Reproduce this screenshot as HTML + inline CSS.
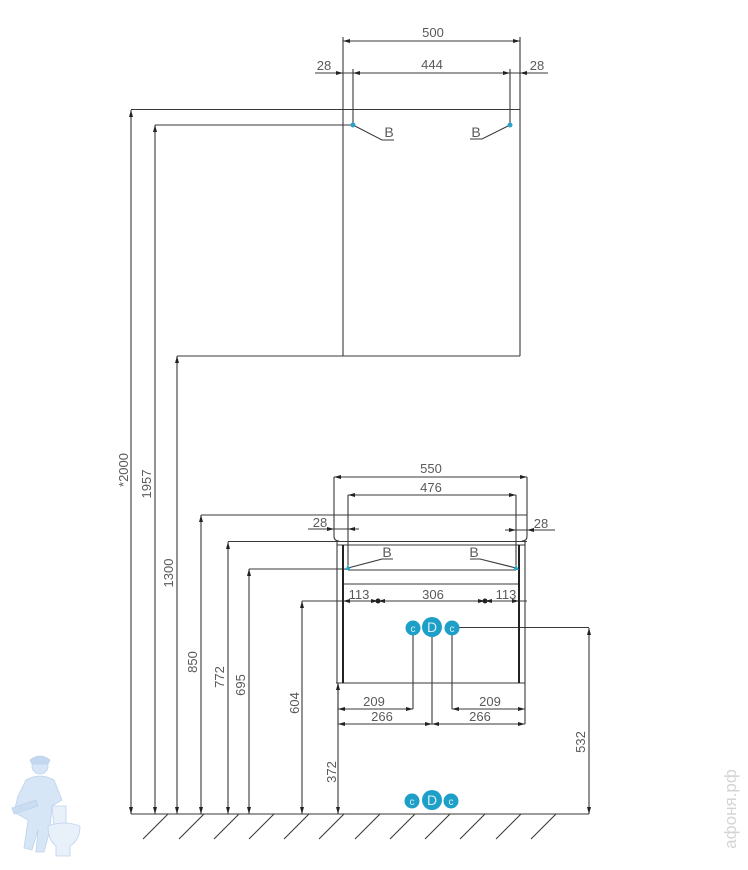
<!DOCTYPE html>
<html>
<head>
<meta charset="utf-8">
<style>
html,body{margin:0;padding:0;background:#fff;}
svg{display:block;}
text{font-family:"Liberation Sans",sans-serif;fill:#5a5a5a;font-size:13px;}
</style>
</head>
<body>
<svg width="748" height="870" viewBox="0 0 748 870" xmlns="http://www.w3.org/2000/svg">
<g stroke="#3a3a3a" stroke-width="1.1" fill="none">
  <!-- mirror -->
  <line x1="343" y1="37" x2="343" y2="356"/>
  <line x1="520" y1="37" x2="520" y2="356"/>
  <line x1="131" y1="109.5" x2="520" y2="109.5"/>
  <line x1="177" y1="356" x2="520" y2="356"/>
  <line x1="155" y1="125" x2="353" y2="125"/>
  <line x1="353" y1="69" x2="353" y2="125"/>
  <line x1="510" y1="69" x2="510" y2="125"/>
  <!-- 500 / 444 dims -->
  <line x1="343" y1="41" x2="520" y2="41"/>
  <line x1="315" y1="73" x2="548" y2="73"/>
  <!-- B labels mirror -->
  <polyline points="353,125 382,140 394,140"/>
  <polyline points="510,125 482,139 470,139"/>

  <!-- vertical dims -->
  <line x1="131" y1="110" x2="131" y2="814"/>
  <line x1="155" y1="125" x2="155" y2="814"/>
  <line x1="177" y1="356" x2="177" y2="814"/>
  <line x1="201" y1="515" x2="201" y2="814"/>
  <line x1="228" y1="542" x2="228" y2="814"/>
  <line x1="249" y1="569" x2="249" y2="814"/>
  <line x1="302" y1="601" x2="302" y2="814"/>
  <line x1="338" y1="683" x2="338" y2="814"/>
  <line x1="589" y1="628" x2="589" y2="814"/>

  <!-- floor -->
  <line x1="131" y1="814" x2="589" y2="814"/>
  <line x1="168" y1="814" x2="143" y2="839"/>
  <line x1="204" y1="814" x2="179" y2="839"/>
  <line x1="239" y1="814" x2="214" y2="839"/>
  <line x1="274" y1="814" x2="249" y2="839"/>
  <line x1="309" y1="814" x2="284" y2="839"/>
  <line x1="344" y1="814" x2="319" y2="839"/>
  <line x1="380" y1="814" x2="355" y2="839"/>
  <line x1="415" y1="814" x2="390" y2="839"/>
  <line x1="450" y1="814" x2="425" y2="839"/>
  <line x1="485" y1="814" x2="460" y2="839"/>
  <line x1="521" y1="814" x2="496" y2="839"/>
  <line x1="556" y1="814" x2="531" y2="839"/>

  <!-- sink / cabinet -->
  <line x1="334" y1="477" x2="527" y2="477"/>
  <line x1="348" y1="495" x2="516" y2="495"/>
  <line x1="334" y1="477" x2="334" y2="515"/>
  <line x1="527" y1="477" x2="527" y2="515"/>
  <line x1="348" y1="495" x2="348" y2="569"/>
  <line x1="516" y1="495" x2="516" y2="569"/>
  <line x1="201" y1="515" x2="527" y2="515"/>
  <path d="M334,515 L334,536 Q334,541 339,541"/>
  <path d="M527,515 L527,536 Q527,541 522,541"/>
  <line x1="228" y1="541.5" x2="527" y2="541.5"/>
  <line x1="337" y1="545" x2="525" y2="545"/>
  <line x1="337" y1="541" x2="337" y2="683"/>
  <line x1="525" y1="541" x2="525" y2="724"/>
  <line x1="249" y1="569" x2="348" y2="569"/>
  <line x1="348" y1="570" x2="516" y2="570"/>
  <line x1="343" y1="584" x2="519" y2="584"/>
  <line x1="336" y1="683" x2="525" y2="683"/>
  <line x1="302" y1="601" x2="527" y2="601"/>
  <!-- 28 cabinet -->
  <line x1="308" y1="529" x2="359" y2="529"/>
  <line x1="505" y1="530" x2="555" y2="530"/>
  <!-- B cabinet -->
  <polyline points="348,568 382,559 393,559"/>
  <polyline points="516,568 480,559 470,559"/>
  <!-- CDC lines -->
  <line x1="452" y1="627.5" x2="589" y2="627.5"/>
  <line x1="413" y1="628" x2="413" y2="709"/>
  <line x1="432" y1="628" x2="432" y2="724"/>
  <line x1="452" y1="628" x2="452" y2="709"/>
  <line x1="338" y1="709" x2="413" y2="709"/>
  <line x1="338" y1="724" x2="432" y2="724"/>
  <line x1="452" y1="709" x2="525" y2="709"/>
  <line x1="432" y1="724" x2="525" y2="724"/>
  <line x1="338" y1="683" x2="338" y2="724"/>
</g>
<!-- thick cabinet front lines -->
<g stroke="#222" stroke-width="2" fill="none">
  <line x1="343" y1="545" x2="343" y2="683"/>
  <line x1="519" y1="545" x2="519" y2="683"/>
</g>

<!-- arrows -->
<g fill="#222" stroke="none">
  <polygon points="131,110 129,117 133,117"/>
  <polygon points="155,125 153,132 157,132"/>
  <polygon points="177,356 175,363 179,363"/>
  <polygon points="201,515 199,522 203,522"/>
  <polygon points="228,542 226,549 230,549"/>
  <polygon points="249,569 247,576 251,576"/>
  <polygon points="302,601 300,608 304,608"/>
  <polygon points="338,683 336,690 340,690"/>
  <polygon points="589,628 587,635 591,635"/>
  <polygon points="131,814 129,807 133,807"/>
  <polygon points="155,814 153,807 157,807"/>
  <polygon points="177,814 175,807 179,807"/>
  <polygon points="201,814 199,807 203,807"/>
  <polygon points="228,814 226,807 230,807"/>
  <polygon points="249,814 247,807 251,807"/>
  <polygon points="302,814 300,807 304,807"/>
  <polygon points="338,814 336,807 340,807"/>
  <polygon points="589,814 587,807 591,807"/>
  <polygon points="343,41 350,39 350,43"/>
  <polygon points="520,41 513,39 513,43"/>
  <polygon points="343,73 336,71 336,75"/>
  <polygon points="353,73 360,71 360,75"/>
  <polygon points="510,73 503,71 503,75"/>
  <polygon points="520,73 527,71 527,75"/>
  <polygon points="334,477 341,475 341,479"/>
  <polygon points="527,477 520,475 520,479"/>
  <polygon points="348,495 355,493 355,497"/>
  <polygon points="516,495 509,493 509,497"/>
  <polygon points="334,529 327,527 327,531"/>
  <polygon points="348,529 355,527 355,531"/>
  <polygon points="516,530 509,528 509,532"/>
  <polygon points="527,530 534,528 534,532"/>
  <polygon points="343,601 350,599 350,603"/>
  <polygon points="519,601 512,599 512,603"/>
  <polygon points="378,601 371,599 371,603"/>
  <polygon points="378,601 385,599 385,603"/>
  <polygon points="485,601 478,599 478,603"/>
  <polygon points="485,601 492,599 492,603"/>
  <circle cx="378" cy="601" r="2.5"/>
  <circle cx="485" cy="601" r="2.5"/>
  <polygon points="338,709 345,707 345,711"/>
  <polygon points="413,709 406,707 406,711"/>
  <polygon points="338,724 345,722 345,726"/>
  <polygon points="432,724 425,722 425,726"/>
  <polygon points="452,709 459,707 459,711"/>
  <polygon points="525,709 518,707 518,711"/>
  <polygon points="432,724 439,722 439,726"/>
  <polygon points="525,724 518,722 518,726"/>
</g>

<!-- blue dots -->
<g fill="#2aa3c9">
  <circle cx="353" cy="125" r="2.5"/>
  <circle cx="510" cy="125" r="2.5"/>
  <polygon points="348,565 345,570 351,570"/>
  <polygon points="516,565 513,570 519,570"/>
</g>

<!-- CDC circles -->
<g fill="#1d9fc8">
  <circle cx="413" cy="628" r="7.5"/>
  <circle cx="432" cy="627" r="10"/>
  <circle cx="452" cy="628" r="7.5"/>
  <circle cx="412" cy="801" r="7.5"/>
  <circle cx="432" cy="800" r="10"/>
  <circle cx="451" cy="801" r="7.5"/>
</g>
<g text-anchor="middle">
  <text x="413" y="632" style="fill:#d9f0f8;font-size:10px">c</text>
  <text x="432" y="632" style="fill:#d9f0f8;font-size:14px">D</text>
  <text x="452" y="632" style="fill:#d9f0f8;font-size:10px">c</text>
  <text x="412" y="805" style="fill:#d9f0f8;font-size:10px">c</text>
  <text x="432" y="805" style="fill:#d9f0f8;font-size:14px">D</text>
  <text x="451" y="805" style="fill:#d9f0f8;font-size:10px">c</text>
</g>

<!-- labels -->
<g text-anchor="middle">
  <text x="433" y="37">500</text>
  <text x="432" y="69">444</text>
  <text x="324" y="70">28</text>
  <text x="537" y="70">28</text>
  <text x="389" y="137" style="font-size:14px">B</text>
  <text x="476" y="137" style="font-size:14px">B</text>
  <text x="431" y="473">550</text>
  <text x="431" y="492">476</text>
  <text x="320" y="527">28</text>
  <text x="541" y="528">28</text>
  <text x="387" y="557" style="font-size:14px">B</text>
  <text x="474" y="557" style="font-size:14px">B</text>
  <text x="359" y="599">113</text>
  <text x="433" y="599">306</text>
  <text x="506" y="599">113</text>
  <text x="374" y="706">209</text>
  <text x="382" y="721">266</text>
  <text x="490" y="706">209</text>
  <text x="480" y="721">266</text>
</g>
<g text-anchor="middle">
  <text transform="translate(128,470) rotate(-90)">*2000</text>
  <text transform="translate(151,484) rotate(-90)">1957</text>
  <text transform="translate(173,573) rotate(-90)">1300</text>
  <text transform="translate(197,662) rotate(-90)">850</text>
  <text transform="translate(224,677) rotate(-90)">772</text>
  <text transform="translate(245,685) rotate(-90)">695</text>
  <text transform="translate(299,703) rotate(-90)">604</text>
  <text transform="translate(336,772) rotate(-90)">372</text>
  <text transform="translate(585,742) rotate(-90)">532</text>
</g>

<!-- watermark figure -->
<g fill="#d6e6f6" stroke="#bcd3ec" stroke-width="0.8">
  <circle cx="40" cy="766" r="8"/>
  <path d="M30,760 Q40,752 50,760 L48,764 L32,764 Z" fill="#c3d8ef"/>
  <path d="M26,780 Q40,772 54,780 L62,800 L52,806 L50,830 L44,852 L36,852 L38,830 L32,850 L24,848 L28,820 L14,812 L18,796 Z"/>
  <path d="M12,808 L36,800 L38,806 L14,814 Z" fill="#c9dcf1"/>
  <path d="M52,806 L66,806 L66,826 L54,826 Z" fill="#e8f0fa"/>
  <path d="M48,826 Q64,820 80,826 Q80,840 70,846 L70,856 L56,856 L56,846 Q48,840 48,826 Z" fill="#e8f0fa"/>
</g>
<!-- watermark text -->
<text transform="translate(736,809) rotate(-90)" text-anchor="middle" style="fill:#d4d4d4;font-size:17px">афоня.рф</text>
</svg>
</body>
</html>
